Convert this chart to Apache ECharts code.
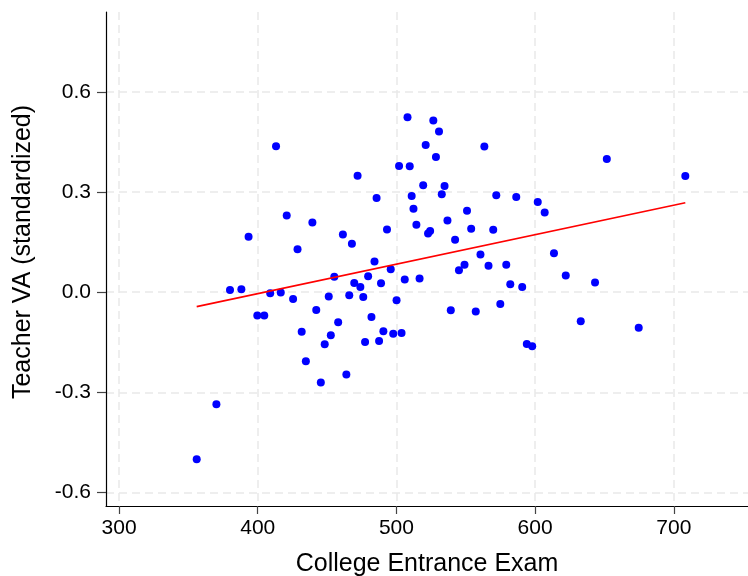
<!DOCTYPE html>
<html>
<head>
<meta charset="utf-8">
<script src="https://cdn.jsdelivr.net/npm/echarts@6/dist/echarts.min.js"></script>
<style>
  html, body { margin: 0; padding: 0; background: #fff; }
  #main { width: 748px; height: 576px; }
</style>
</head>
<body>
<div id="main"></div>
<script>
// scores on the college entrance exam
var examScore = [
  356.0, 370.2, 380.0, 388.2, 393.4, 399.7, 404.7, 409.0, 413.2, 416.6,
  420.9, 425.5, 428.7, 431.7, 434.7, 439.4, 442.2, 445.5, 448.3, 451.2,
  452.7, 455.2, 458.0, 461.4, 463.9, 466.0, 467.9, 469.6, 472.0, 474.0,
  476.1, 477.4, 479.6, 482.0, 484.2, 485.7, 487.5, 488.9, 490.6, 493.2,
  495.9, 497.7, 500.1, 501.9, 503.7, 506.0, 508.0, 509.6, 511.0, 512.3,
  514.4, 516.7, 519.3, 521.1, 522.8, 524.3, 526.6, 528.5, 530.7, 532.7,
  534.7, 536.8, 539.2, 542.3, 545.1, 549.1, 550.9, 553.9, 557.2, 560.6,
  563.4, 566.4, 569.8, 572.0, 574.9, 579.2, 582.1, 586.4, 590.7, 594.0,
  597.9, 601.9, 606.9, 613.6, 622.1, 632.9, 643.2, 651.7, 674.7, 708.3
];
// teacher value added (standardized)
var teacherVA = [
  -0.500, -0.335, 0.007, 0.009, 0.166, -0.070, -0.070, -0.003, 0.437, -0.001,
  0.230, -0.020, 0.129, -0.118, -0.207, 0.209, -0.053, -0.270, -0.156, -0.013,
  -0.129, 0.046, -0.090, 0.173, -0.246, -0.009, 0.145, 0.028, 0.349, 0.016,
  -0.014, -0.149, 0.048, -0.074, 0.092, 0.282, -0.146, 0.027, -0.117, 0.188,
  0.069, -0.124, -0.024, 0.378, -0.122, 0.038, 0.524, 0.377, 0.288, 0.250,
  0.202, 0.041, 0.320, 0.441, 0.176, 0.183, 0.514, 0.405, 0.481, 0.293,
  0.318, 0.215, -0.054, 0.157, 0.066, 0.082, 0.244, 0.190, -0.058, 0.113,
  0.436, 0.079, 0.187, 0.290, -0.035, 0.082, 0.024, 0.285, 0.016, -0.155,
  -0.162, 0.270, 0.239, 0.117, 0.050, -0.087, 0.029, 0.399, -0.106, 0.348
];
// fitted line end points
var fitX = [356.0, 708.3];
var fitY = [-0.043, 0.268];

var xTicks = [300, 400, 500, 600, 700];
var yTicks = [-0.6, -0.3, 0.0, 0.3, 0.6];

var points = examScore.map(function (x, i) { return [x, teacherVA[i]]; });
var fitLine = fitX.map(function (x, i) { return [x, fitY[i]]; });

var myChart = echarts.init(document.getElementById('main'));

var gridLine = { show: true, lineStyle: { color: '#e9e9e9', width: 1.5, type: [8, 5] } };
var font = 'Liberation Sans, Arial, Helvetica, sans-serif';

option = {
    animation: false,
    backgroundColor: '#fff',
    grid: { left: 106, right: 0, top: 12, bottom: 70, containLabel: false, outerBoundsMode: 'none' },
    xAxis: {
        type: 'value',
        min: 290.6,
        max: 753.5,
        name: 'College Entrance Exam',
        nameLocation: 'middle',
        nameGap: 46,
        nameTextStyle: { fontFamily: font, fontSize: 25, color: '#000' },
        axisLine: { show: true, onZero: false, lineStyle: { color: '#000', width: 1.2 } },
        axisTick: { show: true, length: 8, customValues: xTicks, lineStyle: { color: '#444', width: 1.2 } },
        axisLabel: { customValues: xTicks, margin: 12, fontFamily: font, fontSize: 21, color: '#000' },
        splitLine: gridLine
    },
    yAxis: {
        type: 'value',
        min: -0.64,
        max: 0.839,
        name: 'Teacher VA (standardized)',
        nameLocation: 'middle',
        nameGap: 70,
        nameTextStyle: { fontFamily: font, fontSize: 25, color: '#000', padding: [0, 0, 0, 14] },
        axisLine: { show: true, onZero: false, lineStyle: { color: '#000', width: 1.2 } },
        axisTick: { show: true, length: 9, customValues: yTicks, lineStyle: { color: '#444', width: 1.2 } },
        axisLabel: {
            customValues: yTicks, margin: 15, fontFamily: font, fontSize: 21, color: '#000',
            formatter: function (v) { return v.toFixed(1); }
        },
        splitLine: gridLine
    },
    series: [
        {
            name: 'Teachers',
            type: 'scatter',
            data: points,
            symbolSize: 8,
            itemStyle: { color: '#0000ff', opacity: 1 }
        },
        {
            name: 'Fit',
            type: 'line',
            data: fitLine,
            symbol: 'none',
            lineStyle: { color: '#ff0000', width: 1.6 }
        }
    ]
};

myChart.setOption(option);
</script>
</body>
</html>
